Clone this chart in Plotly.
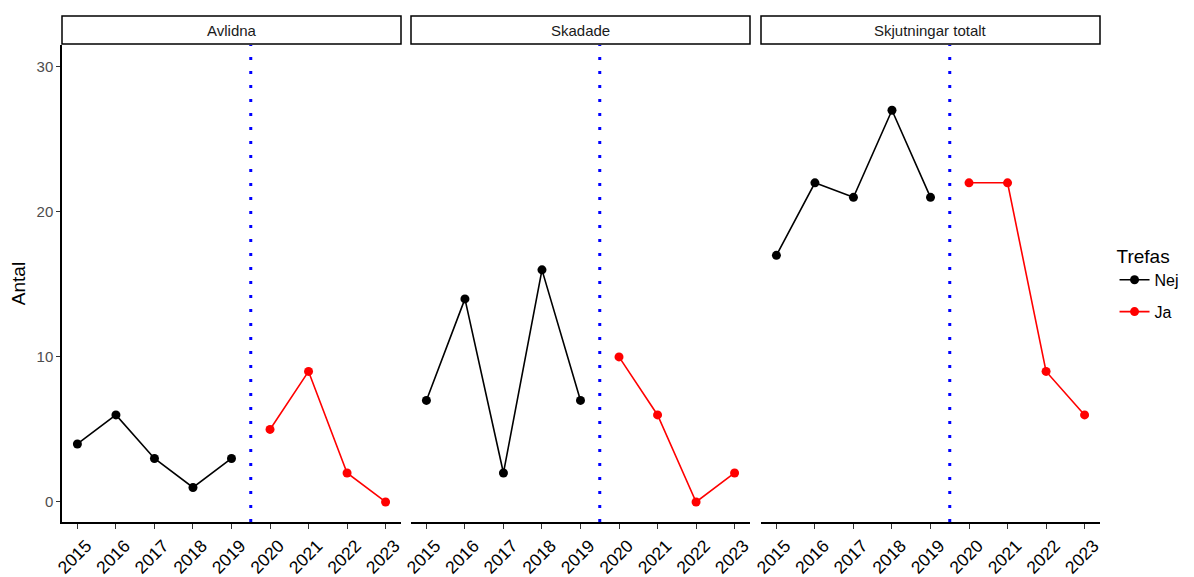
import plotly.graph_objects as go

years_nej = [2015, 2016, 2017, 2018, 2019]
years_ja = [2020, 2021, 2022, 2023]
panels = ["Avlidna", "Skadade", "Skjutningar totalt"]
nej_values = {
    "Avlidna": [4, 6, 3, 1, 3],
    "Skadade": [7, 14, 2, 16, 7],
    "Skjutningar totalt": [17, 22, 21, 27, 21],
}
ja_values = {
    "Avlidna": [5, 9, 2, 0],
    "Skadade": [10, 6, 0, 2],
    "Skjutningar totalt": [22, 22, 9, 6],
}
x_ticks = [2015, 2016, 2017, 2018, 2019, 2020, 2021, 2022, 2023]
y_ticks = [0, 10, 20, 30]
cutoff = 2019.5

# page body has an 8px offset; compensate
W, H = 1186, 569
ml, mr, mt, mb = 54, 94, 37, 55
pw = W - ml - mr
ph = H - mt - mb
domains = [(0, 339), (349, 688), (699, 1038)]
font = "Liberation Sans, Arial, sans-serif"

fig = go.Figure()
shapes = []
annotations = []
for i, p in enumerate(panels):
    ax = "" if i == 0 else str(i + 1)
    fig.add_trace(go.Scatter(
        x=years_nej, y=nej_values[p], mode="lines+markers", name="Nej",
        line=dict(color="black", width=1.6), marker=dict(color="black", size=9),
        xaxis="x" + ax, yaxis="y" + ax, showlegend=(i == 0), legendgroup="Nej"))
    fig.add_trace(go.Scatter(
        x=years_ja, y=ja_values[p], mode="lines+markers", name="Ja",
        line=dict(color="red", width=1.6), marker=dict(color="red", size=9),
        xaxis="x" + ax, yaxis="y" + ax, showlegend=(i == 0), legendgroup="Ja"))
    d0, d1 = domains[i]
    dom = [d0 / pw, d1 / pw]
    fig.layout["xaxis" + ax] = dict(
        domain=dom, range=[2014.6, 2023.4], tickvals=x_ticks, ticktext=[str(t) for t in x_ticks],
        tickangle=-45, ticks="outside", ticklen=5, tickcolor="#333", tickwidth=1.2,
        showline=True, linecolor="black", linewidth=1.5, showgrid=False, zeroline=False,
        automargin=False, ticklabelshift=9,
        tickfont=dict(size=17.5, color="black", family=font), anchor="y" + ax)
    fig.layout["yaxis" + ax] = dict(
        domain=[0, 1], range=[-1.38, 31.5], tickvals=y_ticks if i == 0 else [],
        ticks="outside" if i == 0 else "", ticklen=4, tickcolor="#333", tickwidth=1.2,
        showline=(i == 0), linecolor="black", linewidth=1.5, showgrid=False, zeroline=False,
        automargin=False,
        showticklabels=(i == 0), tickfont=dict(size=15, color="#4d4d4d", family=font),
        anchor="x" + ax,
        title=dict(text="Antal", font=dict(size=19, color="black", family=font), standoff=18) if i == 0 else None)
    shapes.append(dict(type="line", xref="x" + ax, yref="y" + ax + " domain", x0=cutoff, x1=cutoff,
                       y0=0, y1=1, line=dict(color="blue", width=3, dash="3px,11px")))
    shapes.append(dict(type="rect", xref="paper", yref="paper", x0=dom[0], x1=dom[1],
                       y0=1 + 1 / ph, y1=1 + 29 / ph, line=dict(color="black", width=1.5),
                       fillcolor="white"))
    annotations.append(dict(text=p, xref="paper", yref="paper", x=(dom[0] + dom[1]) / 2,
                            y=1 + 15 / ph, showarrow=False, xanchor="center", yanchor="middle",
                            font=dict(size=15, color="#1a1a1a", family=font)))

fig.update_layout(
    width=W, height=H, margin=dict(l=ml, r=mr, t=mt, b=mb, autoexpand=False),
    paper_bgcolor="white", plot_bgcolor="white",
    shapes=shapes, annotations=annotations,
    legend=dict(title=dict(text="Trefas", font=dict(size=19, color="black", family=font)),
                x=1.014, y=0.595, xanchor="left", yanchor="top", itemwidth=30,
                font=dict(size=16, color="black", family=font), tracegroupgap=8),
    font=dict(family=font),
)
fig.write_html("out.html")
